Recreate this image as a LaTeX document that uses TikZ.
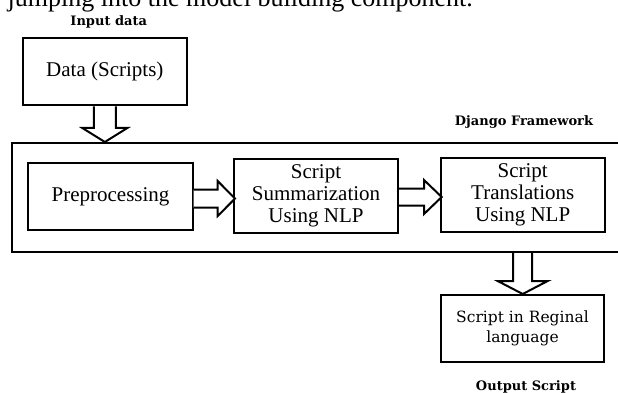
\documentclass[tikz,border=0pt]{standalone}
\usepackage{fontspec}
\setmainfont{Liberation Serif}
\newfontfamily\dvs{DejaVu Serif}
\usetikzlibrary{calc}
\begin{document}
\begin{tikzpicture}[x=1pt,y=-1pt,
  box/.style={draw,line width=2pt,fill=white,inner sep=0pt,align=center,
    font=\fontsize{21}{22}\selectfont},
  label/.style={inner sep=0pt,anchor=base,font=\dvs\bfseries\fontsize{13}{18}\selectfont},
  barrow/.style={draw,line width=2pt,fill=white,line join=miter}]
\useasboundingbox (0,0) rectangle (618,393);
% cut-off line of surrounding text
\node[inner sep=0pt,anchor=base east,font=\fontsize{26}{30}\selectfont] (toptext) at (473,7) {e jumping into the model building component.};
% labels
\node[label] (inlbl) at (108.7,25.5) {Input data};
\node[label] (djlbl) at (524,125.5) {Django Framework};
\node[label] (outlbl) at (526,390.7) {Output Script};
% boxes
\node[box,minimum width=618pt,minimum height=109pt] (frame) at (321,197.5) {};
\node[box,minimum width=164.3pt,minimum height=67.5pt] (data) at (104.85,71.75) {Data (Scripts)};
\node[box,minimum width=164.3pt,minimum height=67.3pt] (pre) at (110.55,196.35) {Preprocessing};
\node[box,minimum width=164pt,minimum height=74pt] (sum) at (316,196) {Script\\Summarization\\Using NLP};
\node[box,minimum width=164pt,minimum height=74pt] (trans) at (522.7,195) {Script\\Translations\\Using NLP};
\node[box,minimum width=163pt,minimum height=66.7pt,font=\dvs\fontsize{15.5}{20}\selectfont] (reg) at (522.5,328.35) {Script in Reginal\\language};
% block arrow: Data -> frame
\coordinate (s1) at (data.south);
\coordinate (t1) at (s1 |- frame.north);
\draw[barrow] ($(s1)+(-11,0)$) -- ($(s1)+(-11,21.5)$) -- ($(s1)+(-22.5,21.5)$) -- (t1)
  -- ($(s1)+(22.5,21.5)$) -- ($(s1)+(11,21.5)$) -- ($(s1)+(11,0)$);
% block arrow: Preprocessing -> Summarization
\coordinate (s2) at ($(pre.east)+(0,2.2)$);
\coordinate (t2) at (s2 -| sum.west);
\draw[barrow] ($(s2)+(0,-9)$) -- ($(s2)+(24,-9)$) -- ($(s2)+(24,-17.5)$) -- ($(t2)+(2,0)$)
  -- ($(s2)+(24,17.5)$) -- ($(s2)+(24,9)$) -- ($(s2)+(0,9)$);
% block arrow: Summarization -> Translations
\coordinate (s3) at ($(sum.east)+(0,1)$);
\coordinate (t3) at (s3 -| trans.west);
\draw[barrow] ($(s3)+(0,-8.5)$) -- ($(s3)+(25,-8.5)$) -- ($(s3)+(25,-17)$) -- ($(t3)+(2,0)$)
  -- ($(s3)+(25,17)$) -- ($(s3)+(25,8.5)$) -- ($(s3)+(0,8.5)$);
% block arrow: frame -> Script in Reginal language
\coordinate (s4) at (trans.south |- frame.south);
\coordinate (t4) at (s4 |- reg.north);
\draw[barrow] ($(s4)+(-9.5,0)$) -- ($(s4)+(-9.5,28)$) -- ($(s4)+(-25,28)$) -- (t4)
  -- ($(s4)+(25,28)$) -- ($(s4)+(9.5,28)$) -- ($(s4)+(9.5,0)$);
\end{tikzpicture}
\end{document}
